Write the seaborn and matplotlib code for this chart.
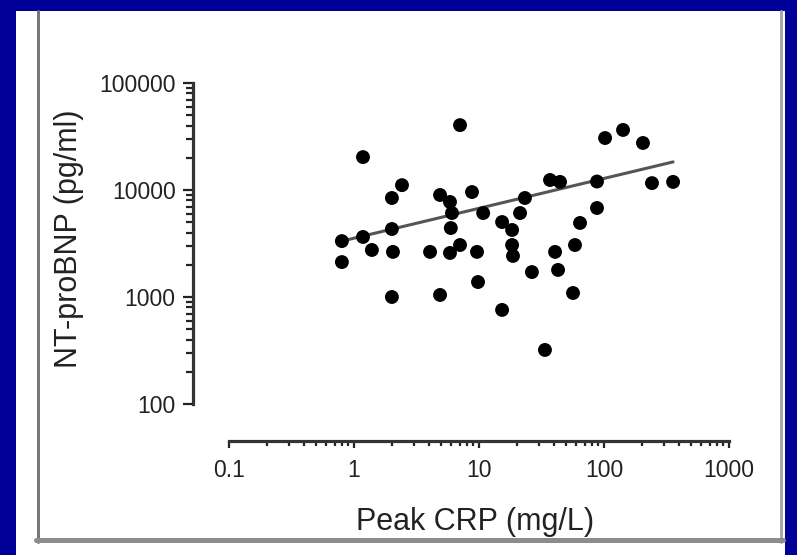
import numpy as np
import pandas as pd
import matplotlib
matplotlib.use("Agg")
import matplotlib.pyplot as plt
from matplotlib.lines import Line2D
from matplotlib.patches import Rectangle
from matplotlib.ticker import FixedLocator, FixedFormatter, LogLocator, NullFormatter
import seaborn as sns

# ---- data ----
peak_crp = [0.80, 0.80, 1.18, 1.18, 1.39, 2.01, 2.42, 2.01, 2.05, 2.01,
            4.06, 4.88, 4.88, 5.86, 6.08, 5.95, 7.05, 5.86, 9.64, 7.05,
            8.79, 10.8, 9.82, 15.3, 18.4, 18.4, 18.7, 23.3, 21.3, 15.3,
            26.5, 33.7, 37.0, 44.5, 40.6, 42.9, 58.6, 64.3, 56.5, 87.9,
            87.9, 102, 142, 205, 242, 357]
nt_probnp = [3330, 2120, 20300, 3640, 2750, 8420, 11100, 4320, 2640, 1000,
             2640, 1045, 8980, 7730, 6090, 4410, 3060, 2580, 2640, 40400,
             9570, 6090, 1380, 5020, 4230, 3060, 2420, 8420, 6090, 757,
             1710, 320, 12400, 11900, 2640, 1790, 3060, 4920, 1090, 12000,
             6790, 30600, 36400, 27500, 11600, 11900]

# regression line as drawn in the reference (end points)
fit_crp = [0.80, 357]
fit_bnp = [3330, 18300]

x_ticks = [0.1, 1, 10, 100, 1000]
x_tick_labels = ["0.1", "1", "10", "100", "1000"]
y_ticks = [100, 1000, 10000, 100000]
y_tick_labels = ["100", "1000", "10000", "100000"]
x_label = "Peak CRP (mg/L)"
y_label = "NT-proBNP (pg/ml)"

df = pd.DataFrame({"crp": peak_crp, "bnp": nt_probnp})
fit_df = pd.DataFrame({"crp": fit_crp, "bnp": fit_bnp})

sns.set_theme(style="white")
plt.rcParams["font.family"] = ["Liberation Sans", "DejaVu Sans"]

W, H = 797, 555
fig = plt.figure(figsize=(W / 100, H / 100), dpi=100)
fig.patch.set_facecolor("#000099")

def fx(px):
    return px / W

def fy(py):
    return 1 - py / H

# white panel (behind everything)
fig.patches.append(Rectangle((fx(16), 0), fx(785) - fx(16), fy(11), transform=fig.transFigure,
                             facecolor="white", edgecolor="none", zorder=-10))
# gray frame lines
fig.lines.append(Line2D([fx(37.5), fx(37.5)], [fy(11), fy(542)], transform=fig.transFigure,
                        color="#777777", lw=3 * 0.72, zorder=-5))
fig.lines.append(Line2D([fx(781), fx(781)], [fy(11), fy(542)], transform=fig.transFigure,
                        color="#a8a8a8", lw=3 * 0.72, zorder=-5))
fig.lines.append(Line2D([fx(36), fx(782.5)], [fy(540), fy(540)], transform=fig.transFigure,
                        color="#8c8c8c", lw=5 * 0.72, zorder=-5))

# axes: x 0.1..1000 -> px 229..729 ; y 100..100000 -> px 404..83
ax_left, ax_right, ax_top, ax_bot = 229, 729, 83, 404
ax = fig.add_axes([fx(ax_left), fy(ax_bot), fx(ax_right) - fx(ax_left), fy(ax_top) - fy(ax_bot)])
ax.set_facecolor("none")
ax.set_zorder(5)

sns.scatterplot(data=df, x="crp", y="bnp", ax=ax, color="black", s=100,
                edgecolor="none", linewidth=0, zorder=3, clip_on=False)
sns.lineplot(data=fit_df, x="crp", y="bnp", ax=ax, color="#555555", lw=2.2, zorder=2)

ax.set_xscale("log")
ax.set_yscale("log")
ax.set_xlim(x_ticks[0], x_ticks[-1])
ax.set_ylim(y_ticks[0], y_ticks[-1])

ax.xaxis.set_major_locator(FixedLocator(x_ticks))
ax.xaxis.set_major_formatter(FixedFormatter(x_tick_labels))
ax.yaxis.set_major_locator(FixedLocator(y_ticks))
ax.yaxis.set_major_formatter(FixedFormatter(y_tick_labels))
ax.xaxis.set_minor_locator(LogLocator(base=10, subs=np.arange(2, 10)))
ax.yaxis.set_minor_locator(LogLocator(base=10, subs=np.arange(2, 10)))
ax.xaxis.set_minor_formatter(NullFormatter())
ax.yaxis.set_minor_formatter(NullFormatter())

for s in ["top", "right"]:
    ax.spines[s].set_visible(False)
ax.spines["left"].set_position(("outward", 36 * 0.72))
ax.spines["bottom"].set_position(("outward", 37 * 0.72))
for s in ["left", "bottom"]:
    ax.spines[s].set_color("#333333")
    ax.spines[s].set_linewidth(2.3)

ax.tick_params(axis="y", which="major", direction="out", length=7, width=1.6,
               color="#222222", labelsize=16.5, pad=5.5, labelcolor="#222222", left=True)
ax.tick_params(axis="y", which="minor", direction="out", length=5, width=1.6,
               color="#222222", left=True)
ax.tick_params(axis="x", which="major", direction="out", length=5, width=1.6,
               color="#222222", labelsize=16.5, pad=8, labelcolor="#222222", bottom=True)
ax.tick_params(axis="x", which="minor", direction="out", length=3.5, width=1.6,
               color="#222222", bottom=True)

ax.set_xlabel(x_label, fontsize=22, color="#222222")
ax.set_ylabel(y_label, fontsize=22, color="#222222")
ax.xaxis.set_label_coords(0.492, -0.32)
ax.yaxis.set_label_coords(-0.29, 0.514)

fig.savefig("out.png", dpi=100, facecolor=fig.get_facecolor())
